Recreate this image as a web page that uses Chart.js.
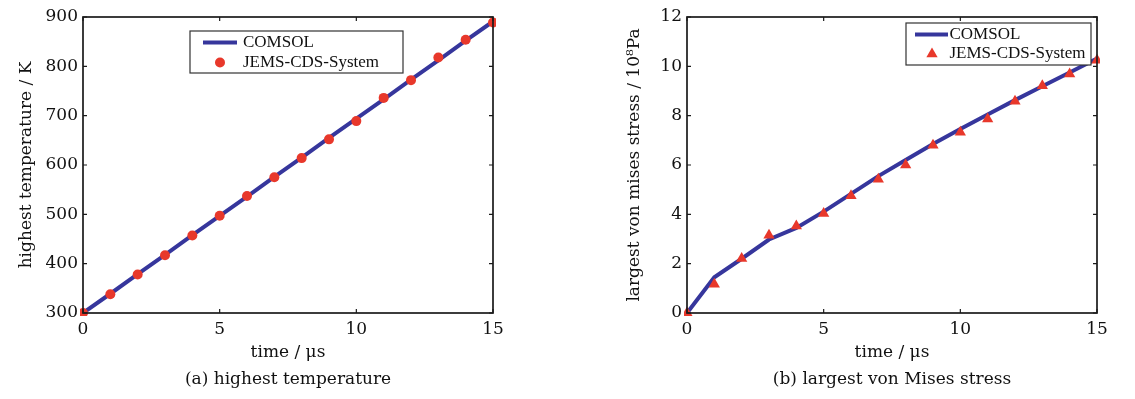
<!DOCTYPE html>
<html>
<head>
<meta charset="utf-8">
<script src="https://cdn.jsdelivr.net/npm/chart.js@4.4.1/dist/chart.umd.min.js"></script>
<style>
  html, body { margin: 0; padding: 0; background: #fff; }
  body { width: 1135px; height: 399px; position: relative; overflow: hidden; }
  canvas { position: absolute; top: 0; }
  #chartA { left: 0; }
  #chartB { left: 580px; }
</style>
</head>
<body>
<canvas id="chartA" width="580" height="399"></canvas>
<canvas id="chartB" width="555" height="399"></canvas>
<script>
// time axis (µs), shared by both panels
const timeSteps = [0, 1, 2, 3, 4, 5, 6, 7, 8, 9, 10, 11, 12, 13, 14, 15];

// (a) highest temperature, K
const comsolTemp = [300, 339, 379, 418, 458, 497, 536, 576, 615, 655, 694, 733, 773, 812, 852, 891];
const jemsTemp   = [300, 338, 378, 417, 457, 497, 537, 575, 614, 652, 689, 736, 772, 818, 854, 889];

// (b) largest von Mises stress, 10^8 Pa
const comsolStress = [0, 1.45, 2.2, 2.98, 3.45, 4.11, 4.83, 5.55, 6.2, 6.85, 7.46, 8.05, 8.63, 9.19, 9.75, 10.32];
const jemsStress   = [0, 1.17, 2.21, 3.15, 3.53, 4.03, 4.75, 5.42, 6.0, 6.8, 7.33, 7.86, 8.58, 9.21, 9.69, 10.25];

const seriesLabels = ['COMSOL', 'JEMS-CDS-System'];
const xTicks = [0, 5, 10, 15];

const LINE_BLUE = '#36369c';
const MARK_RED = '#e8382b';
const TEXT = '#111';
const AXIS_FONT = { family: '"DejaVu Serif", serif', size: 17 };

const toPoints = vals => timeSteps.map((t, i) => ({ x: t, y: vals[i] }));

// box frame with MATLAB style inward ticks on all four sides
const frameTicks = {
    id: 'frameTicks',
    afterDatasetsDraw(chart) {
        const { ctx, chartArea: a, scales: { x, y } } = chart;
        ctx.save();
        ctx.strokeStyle = '#1a1a1a';
        ctx.lineWidth = 1.2;
        ctx.beginPath();
        x.ticks.forEach(t => {
            const px = x.getPixelForValue(t.value);
            ctx.moveTo(px, a.bottom); ctx.lineTo(px, a.bottom - 4);
            ctx.moveTo(px, a.top); ctx.lineTo(px, a.top + 4);
        });
        y.ticks.forEach(t => {
            const py = y.getPixelForValue(t.value);
            ctx.moveTo(a.left, py); ctx.lineTo(a.left + 4, py);
            ctx.moveTo(a.right, py); ctx.lineTo(a.right - 4, py);
        });
        ctx.stroke();
        ctx.lineWidth = 1.7;
        ctx.strokeRect(a.left, a.top, a.right - a.left, a.bottom - a.top);
        ctx.restore();
    }
};

// legend drawn inside the plot with a framed white box
const boxLegend = {
    id: 'boxLegend',
    afterDraw(chart, args, opts) {
        const { ctx } = chart;
        const [bx, by, bw, bh] = opts.box;
        const [lineDs, markDs] = chart.data.datasets;
        ctx.save();
        ctx.fillStyle = '#fff';
        ctx.fillRect(bx, by, bw, bh);
        ctx.strokeStyle = '#333';
        ctx.lineWidth = 1.2;
        ctx.strokeRect(bx, by, bw, bh);

        ctx.strokeStyle = lineDs.borderColor;
        ctx.lineWidth = lineDs.borderWidth;
        ctx.beginPath();
        ctx.moveTo(opts.sample[0], opts.rows[0]);
        ctx.lineTo(opts.sample[1], opts.rows[0]);
        ctx.stroke();

        ctx.fillStyle = markDs.backgroundColor;
        ctx.strokeStyle = markDs.backgroundColor;
        Chart.helpers.drawPoint(ctx, {
            pointStyle: markDs.pointStyle,
            radius: markDs.pointRadius,
            rotation: 0,
            borderWidth: 0
        }, opts.markerX, opts.rows[1]);

        ctx.fillStyle = TEXT;
        ctx.font = '17px "Liberation Serif", serif';
        ctx.textBaseline = 'middle';
        ctx.fillText(lineDs.label, opts.textX, opts.rows[0]);
        ctx.fillText(markDs.label, opts.textX, opts.rows[1]);
        ctx.restore();
    }
};

function makeChart(id, cfg) {
    return new Chart(document.getElementById(id), {
        type: 'line',
        data: {
            datasets: [{
                label: seriesLabels[0],
                data: toPoints(cfg.line),
                borderColor: LINE_BLUE,
                borderWidth: 4,
                pointRadius: 0,
                tension: 0,
                order: 2
            }, {
                label: seriesLabels[1],
                data: toPoints(cfg.marks),
                showLine: false,
                pointStyle: cfg.pointStyle,
                pointRadius: cfg.pointRadius,
                pointBorderWidth: 0,
                backgroundColor: MARK_RED,
                pointBackgroundColor: MARK_RED,
                clip: 3,
                order: 1
            }]
        },
        options: {
            responsive: false,
            animation: false,
            layout: { padding: { top: 17, right: cfg.rightPad, left: 0, bottom: 0 } },
            plugins: {
                legend: { display: false },
                tooltip: { enabled: false },
                title: {
                    display: true,
                    position: 'bottom',
                    fullSize: false,
                    text: cfg.caption,
                    color: TEXT,
                    font: { family: '"DejaVu Serif", serif', size: 17, weight: 'normal' },
                    padding: { top: 0, bottom: 9 }
                },
                boxLegend: cfg.legend
            },
            scales: {
                x: {
                    type: 'linear',
                    min: 0, max: 15,
                    afterBuildTicks: s => { s.ticks = xTicks.map(v => ({ value: v })); },
                    afterFit: s => { s.height = 56.6; },
                    grid: { display: false, drawTicks: false },
                    border: { display: false },
                    ticks: { color: TEXT, font: AXIS_FONT, padding: 6 },
                    title: {
                        display: true, text: 'time / μs', color: TEXT, font: AXIS_FONT,
                        padding: { top: 0, bottom: 7 }
                    }
                },
                y: {
                    min: cfg.yMin, max: cfg.yMax,
                    afterFit: s => { s.width = cfg.yWidth; },
                    grid: { display: false, drawTicks: false },
                    border: { display: false },
                    ticks: { stepSize: cfg.yStep, color: TEXT, font: AXIS_FONT, padding: 5 },
                    title: {
                        display: true, text: cfg.yTitle, color: TEXT, font: AXIS_FONT,
                        padding: { top: cfg.yTitlePad, bottom: 0 }
                    }
                }
            }
        },
        plugins: [frameTicks, boxLegend]
    });
}

makeChart('chartA', {
    line: comsolTemp, marks: jemsTemp,
    pointStyle: 'circle', pointRadius: 5,
    yMin: 300, yMax: 900, yStep: 100,
    yTitle: 'highest temperature / K', yTitlePad: 16, yWidth: 83, rightPad: 87,
    caption: '(a) highest temperature',
    legend: { box: [190, 31, 213, 42], sample: [203, 237], rows: [42.5, 62.5], markerX: 220, textX: 243 }
});

makeChart('chartB', {
    line: comsolStress, marks: jemsStress,
    pointStyle: 'triangle', pointRadius: 6.5,
    yMin: 0, yMax: 12, yStep: 2,
    yTitle: 'largest von mises stress / 10⁸Pa', yTitlePad: 44, yWidth: 107, rightPad: 38,
    caption: '(b) largest von Mises stress',
    legend: { box: [326, 23, 185, 42], sample: [335, 368], rows: [34.5, 54], markerX: 352, textX: 369.5 }
});
</script>
</body>
</html>
